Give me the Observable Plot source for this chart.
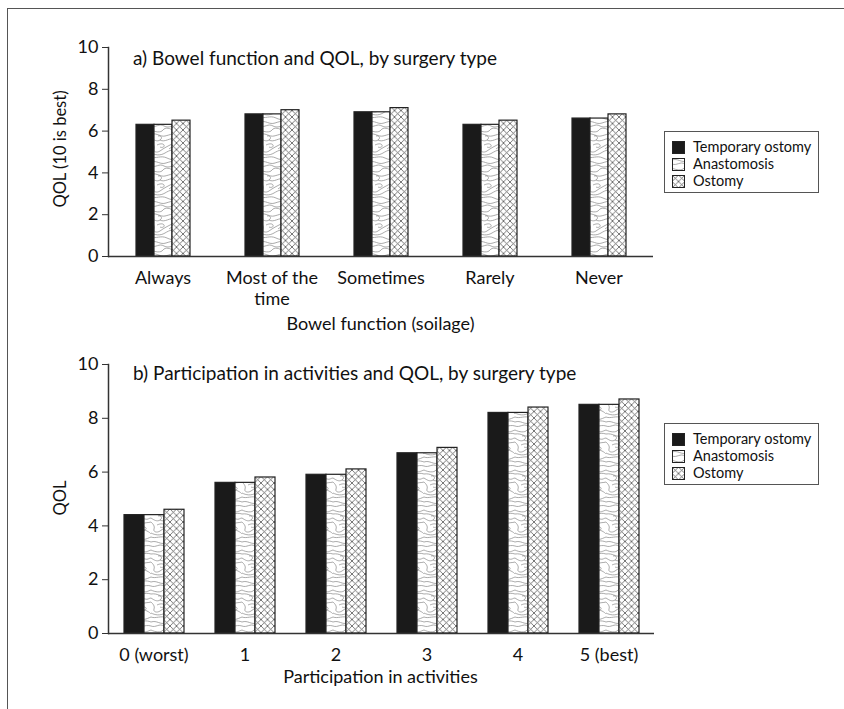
<!DOCTYPE html>
<html>
<head>
<meta charset="utf-8">
<script src="https://cdn.jsdelivr.net/npm/d3@7"></script>
<script src="https://cdn.jsdelivr.net/npm/@observablehq/plot@0.6"></script>
<style>
  body { margin: 0; background: #fff; font-family: Lato, "Noto Sans", sans-serif; color: #111; }
  #wrap { position: relative; width: 844px; height: 709px; overflow: hidden; background: #fff; }
  #border { position: absolute; left: 7px; top: 8px; width: 900px; height: 800px; border: 1.5px solid #555; box-sizing: border-box; }
  .panel { position: absolute; left: 0; }
  .title { position: absolute; left: 133px; font-size: 19px; white-space: nowrap; line-height: 1; }
  .xlabel { position: absolute; left: 107px; width: 547px; text-align: center; font-size: 18px; line-height: 1; }
  .ylabel { position: absolute; font-size: 16.5px; line-height: 1; white-space: nowrap; transform: translate(-50%, -50%) rotate(-90deg); }
  .legend { position: absolute; left: 664px; width: 155px; height: 62px; border: 1px solid #555; box-sizing: border-box; background: #fff; font-size: 14.5px; }
  .legend .row { position: absolute; left: 7px; display: flex; align-items: center; white-space: nowrap; line-height: 1; }
  .legend svg { margin-right: 8px; }
</style>
</head>
<body>
<svg width="0" height="0" style="position:absolute">
  <defs>
    <pattern id="anast" patternUnits="userSpaceOnUse" width="30" height="40">
      <rect width="30" height="40" fill="#fff"/>
      <g fill="none" stroke="#858585" stroke-width="0.7">
        <path d="M0,2 C6,0 9,5 15,3 S25,0 30,2"/>
        <path d="M0,6 C5,8 8,3 13,6 C18,9 24,4 30,6"/>
        <path d="M0,10 C4,12 10,13 12,10 C14,7 20,8 22,11 C24,13 27,11 30,10"/>
        <path d="M0,14 C7,13 9,17 14,16 S24,12 30,14"/>
        <path d="M0,18 C3,20 6,22 9,20 C12,18 10,15 7,16 M9,20 C14,23 19,17 24,19 C27,20 28,18 30,18"/>
        <path d="M0,22 C2,24 4,26 3,29 C2,32 6,33 9,31 C13,28 17,26 21,24 C25,22 27,23 30,22"/>
        <path d="M6,25 C8,24 12,23 13,25 C14,27 11,28 9,27"/>
        <path d="M0,33 C4,35 9,36 14,33 S22,29 26,31 S29,34 30,33"/>
        <path d="M0,37 C5,39 10,35 16,38 S25,39 30,37"/>
        <path d="M18,29 C20,27 24,26 25,28 C26,30 22,31 20,30"/>
      </g>
    </pattern>
    <pattern id="ostomy" patternUnits="userSpaceOnUse" width="6.5" height="6.5">
      <rect width="6.5" height="6.5" fill="#fff"/>
      <path d="M0,0L6.5,6.5M6.5,0L0,6.5" stroke="#555" stroke-width="0.8"/>
    </pattern>
  </defs>
</svg>
<div id="wrap">
  <div id="border"></div>
  <div id="panelA" class="panel" style="top:0px"></div>
  <div id="panelB" class="panel" style="top:340px"></div>
  <div class="title" style="top:48px">a) Bowel function and QOL, by surgery type</div>
  <div class="title" style="top:363px">b) Participation in activities and QOL, by surgery type</div>
  <div class="xlabel" style="top:314px">Bowel function (soilage)</div>
  <div class="xlabel" style="top:667px">Participation in activities</div>
  <div class="ylabel" style="left:60px; top:149px">QOL (10 is best)</div>
  <div class="ylabel" style="left:60px; top:498px">QOL</div>
  <div id="legendA" class="legend" style="top:131px"></div>
  <div id="legendB" class="legend" style="top:423px"></div>
</div>
<script>
// ---- data ----
const series = ["Temporary ostomy", "Anastomosis", "Ostomy"];
const seriesFills = ["#1a1a1a", "url(#anast)", "url(#ostomy)"];

const bowelCats = ["Always", "Most of the time", "Sometimes", "Rarely", "Never"];
const bowelTickLabels = ["Always", "Most of the\ntime", "Sometimes", "Rarely", "Never"];
const bowelTemporary = [6.3, 6.8, 6.9, 6.3, 6.6];
const bowelAnastomosis = [6.3, 6.8, 6.9, 6.3, 6.6];
const bowelOstomy = [6.5, 7.0, 7.1, 6.5, 6.8];

const actCats = ["0 (worst)", "1", "2", "3", "4", "5 (best)"];
const actTickLabels = ["0 (worst)", "1", "2", "3", "4", "5 (best)"];
const actTemporary = [4.4, 5.6, 5.9, 6.7, 8.2, 8.5];
const actAnastomosis = [4.4, 5.6, 5.9, 6.7, 8.2, 8.5];
const actOstomy = [4.6, 5.8, 6.1, 6.9, 8.4, 8.7];

const yTicks = [0, 2, 4, 6, 8, 10];

function rowsOf(cats, valueLists) {
  return cats.flatMap((c, i) => series.map((s, j) => ({cat: c, series: s, value: valueLists[j][i]})));
}

function panel({cats, tickLabels, values, height, marginTop, marginBottom, outer}) {
  const rows = rowsOf(cats, values);
  return Plot.plot({
    width: 844,
    height,
    marginTop,
    marginBottom,
    marginLeft: 107,
    marginRight: 190,
    style: {fontFamily: "Lato, 'Noto Sans', sans-serif", fontSize: "18px", color: "#111", background: "transparent"},
    fx: {domain: cats, padding: 0},
    x: {domain: series, paddingInner: 0, paddingOuter: outer, axis: null},
    y: {domain: [0, 10]},
    color: {domain: series, range: seriesFills},
    marks: [
      Plot.barY(rows, {fx: "cat", x: "series", y: "value", fill: "series", stroke: "#222", strokeWidth: 1.2}),
      Plot.ruleY([0], {stroke: "#333", strokeWidth: 1.5}),
      Plot.frame({anchor: "left", facetAnchor: "left", stroke: "#333", strokeWidth: 1.5}),
      Plot.axisY({ticks: yTicks, tickSize: 6, tickPadding: 4, label: null, fontSize: 18, stroke: "#333"}),
      Plot.axisFx({anchor: "bottom", tickSize: 0, tickPadding: 12, label: null, fontSize: 18, lineHeight: 1.2,
                   tickFormat: d => tickLabels[cats.indexOf(d)]})
    ]
  });
}

document.getElementById("panelA").appendChild(panel({
  cats: bowelCats, tickLabels: bowelTickLabels,
  values: [bowelTemporary, bowelAnastomosis, bowelOstomy],
  height: 340, marginTop: 47, marginBottom: 84, outer: 1.47
}));
document.getElementById("panelB").appendChild(panel({
  cats: actCats, tickLabels: actTickLabels,
  values: [actTemporary, actAnastomosis, actOstomy],
  height: 369, marginTop: 24, marginBottom: 76, outer: 0.74
}));

function legend(id) {
  const el = document.getElementById(id);
  series.forEach((s, i) => {
    const row = document.createElement("div");
    row.className = "row";
    row.style.top = (8 + i * 17) + "px";
    row.innerHTML = `<svg width="13" height="13"><rect x="0.5" y="0.5" width="12" height="12" fill="${seriesFills[i]}" stroke="#222" stroke-width="1"/></svg><span>${s}</span>`;
    el.appendChild(row);
  });
}
legend("legendA");
legend("legendB");
</script>
</body>
</html>
